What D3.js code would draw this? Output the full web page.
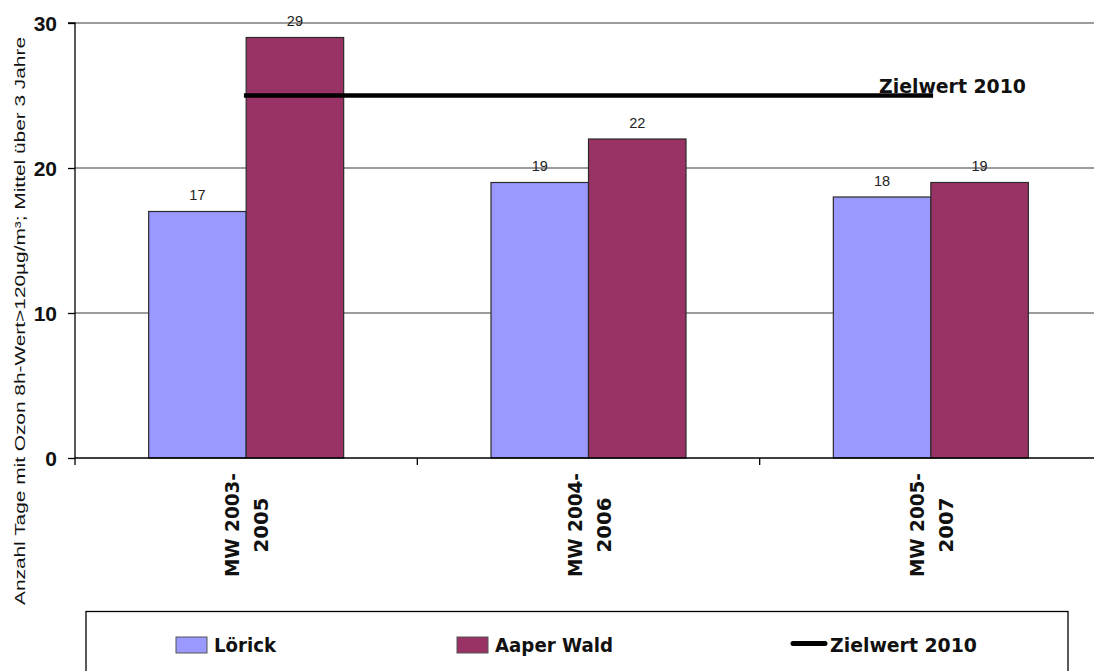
<!DOCTYPE html>
<html>
<head>
<meta charset="utf-8">
<script src="https://cdn.jsdelivr.net/npm/d3@7"></script>
<style>
  html, body { margin: 0; padding: 0; background: #fff; }
  svg { display: block; }
  .arial { font-family: "Liberation Sans", Arial, Helvetica, sans-serif; }
  .verd { font-family: "DejaVu Sans", Verdana, sans-serif; font-weight: bold; }
</style>
</head>
<body>
<svg id="chart" width="1094" height="671"></svg>
<script>
// ---- data ----
const categories = [["MW 2003-", "2005"], ["MW 2004-", "2006"], ["MW 2005-", "2007"]];
const seriesNames = ["Lörick", "Aaper Wald"];
const loerick = [17, 19, 18];
const aaperWald = [29, 22, 19];
const zielwert = [25, 25, 25];
const zielwertName = "Zielwert 2010";
const yTicks = [0, 10, 20, 30];
const yTitle = "Anzahl Tage mit Ozon 8h-Wert>120µg/m³; Mittel über 3 Jahre";

const colors = ["#9999FF", "#993366"];
const svg = d3.select("#chart");

const x0 = 75, x1 = 1102, yTop = 23, yBot = 458;
const catKeys = categories.map(c => c.join(" "));
const x = d3.scaleBand().domain(catKeys).range([x0, x1]).paddingInner(0).paddingOuter(0);
const barW = 97.5;
const y = d3.scaleLinear().domain([0, 30]).range([yBot, yTop]);

// gridlines
svg.append("g").selectAll("line").data(yTicks.filter(t => t > 0)).join("line")
  .attr("x1", x0).attr("x2", x1)
  .attr("y1", d => y(d)).attr("y2", d => y(d))
  .attr("stroke", "#3a3a3a").attr("stroke-width", 1.2);

// bars
const seriesData = [loerick, aaperWald];
seriesData.forEach((vals, si) => {
  svg.append("g").selectAll("rect").data(vals).join("rect")
    .attr("x", (d, i) => x(catKeys[i]) + x.bandwidth() / 2 - barW + si * barW)
    .attr("y", d => y(d))
    .attr("width", barW)
    .attr("height", d => y(0) - y(d))
    .attr("fill", colors[si])
    .attr("stroke", "#2a2a2a").attr("stroke-width", 1.2);
  svg.append("g").selectAll("text").data(vals).join("text")
    .attr("class", "arial")
    .attr("x", (d, i) => x(catKeys[i]) + x.bandwidth() / 2 - barW / 2 + si * barW)
    .attr("y", d => y(d) - 11.5)
    .attr("text-anchor", "middle")
    .attr("font-size", 14.5)
    .attr("fill", "#222")
    .text(d => d);
});

// y axis
const yAxis = d3.axisLeft(y).tickValues(yTicks).tickSize(7).tickFormat(d3.format("d"));
const gy = svg.append("g").attr("transform", `translate(${x0},0)`).call(yAxis);
gy.attr("font-family", null).attr("font-size", null);
gy.select(".domain").attr("d", `M-7,${yTop}H0V${yBot}`).attr("stroke", "#000").attr("stroke-width", 1.3);
gy.selectAll(".tick line").attr("stroke", "#000").attr("stroke-width", 1.3);
gy.selectAll(".tick text")
  .attr("class", "arial")
  .attr("x", -18)
  .attr("font-weight", "bold").attr("font-size", 21).attr("fill", "#111")
  .attr("dy", "0.36em");

// x axis
svg.append("line").attr("x1", x0).attr("x2", x1).attr("y1", y(0)).attr("y2", y(0))
  .attr("stroke", "#000").attr("stroke-width", 1.3);
const bounds = catKeys.map(k => x(k)).concat([x1]);
svg.append("g").selectAll("line").data(bounds).join("line")
  .attr("x1", d => d).attr("x2", d => d).attr("y1", y(0)).attr("y2", y(0) + 7)
  .attr("stroke", "#000").attr("stroke-width", 1.3);

// x labels (rotated)
const xl = svg.append("g").selectAll("g").data(categories).join("g")
  .attr("transform", (d, i) => `translate(${x(catKeys[i]) + x.bandwidth() / 2},525) rotate(-90)`);
xl.append("text").attr("class", "verd").attr("x", 0).attr("y", -7)
  .attr("text-anchor", "middle")
  .attr("font-size", 19).attr("fill", "#111")
  .attr("textLength", 104).attr("lengthAdjust", "spacingAndGlyphs")
  .text(d => d[0]);
xl.append("text").attr("class", "verd").attr("x", 0).attr("y", 22)
  .attr("text-anchor", "middle")
  .attr("font-size", 19).attr("fill", "#111")
  .attr("textLength", 55).attr("lengthAdjust", "spacingAndGlyphs")
  .text(d => d[1]);

// y title
svg.append("text").attr("class", "arial")
  .attr("transform", `translate(25,321) rotate(-90)`)
  .attr("text-anchor", "middle")
  .attr("font-size", 14.5).attr("fill", "#111")
  .attr("textLength", 568).attr("lengthAdjust", "spacingAndGlyphs")
  .text(yTitle);

// Zielwert line
const line = d3.line().x((d, i) => x(catKeys[i]) + x.bandwidth() / 2).y(d => y(d));
svg.append("path").datum(zielwert).attr("d", line)
  .attr("fill", "none").attr("stroke", "#000").attr("stroke-width", 4.5).attr("stroke-linecap", "square");
svg.append("text").attr("class", "verd").attr("x", 879).attr("y", 93)
  .attr("font-size", 20).attr("fill", "#111")
  .attr("textLength", 147).attr("lengthAdjust", "spacingAndGlyphs")
  .text(zielwertName);

// legend
svg.append("rect").attr("x", 86).attr("y", 611.5).attr("width", 982).attr("height", 80)
  .attr("fill", "#fff").attr("stroke", "#000").attr("stroke-width", 1.3);
const lg = [
  { type: "rect", color: colors[0], name: seriesNames[0], sx: 176, tx: 214, tl: 62 },
  { type: "rect", color: colors[1], name: seriesNames[1], sx: 457, tx: 495, tl: 118 },
  { type: "line", color: "#000", name: zielwertName, sx: 791, tx: 830, tl: 147 }
];
lg.forEach(it => {
  if (it.type === "rect") {
    svg.append("rect").attr("x", it.sx).attr("y", 637).attr("width", 31).attr("height", 16)
      .attr("fill", it.color).attr("stroke", "#555").attr("stroke-width", 1);
  } else {
    svg.append("line").attr("x1", it.sx + 2).attr("x2", it.sx + 34).attr("y1", 643.5).attr("y2", 643.5)
      .attr("stroke", "#000").attr("stroke-width", 5).attr("stroke-linecap", "round");
  }
  svg.append("text").attr("class", "verd").attr("x", it.tx).attr("y", 652)
    .attr("font-size", 20).attr("fill", "#111")
    .attr("textLength", it.tl).attr("lengthAdjust", "spacingAndGlyphs")
    .text(it.name);
});
</script>
</body>
</html>
